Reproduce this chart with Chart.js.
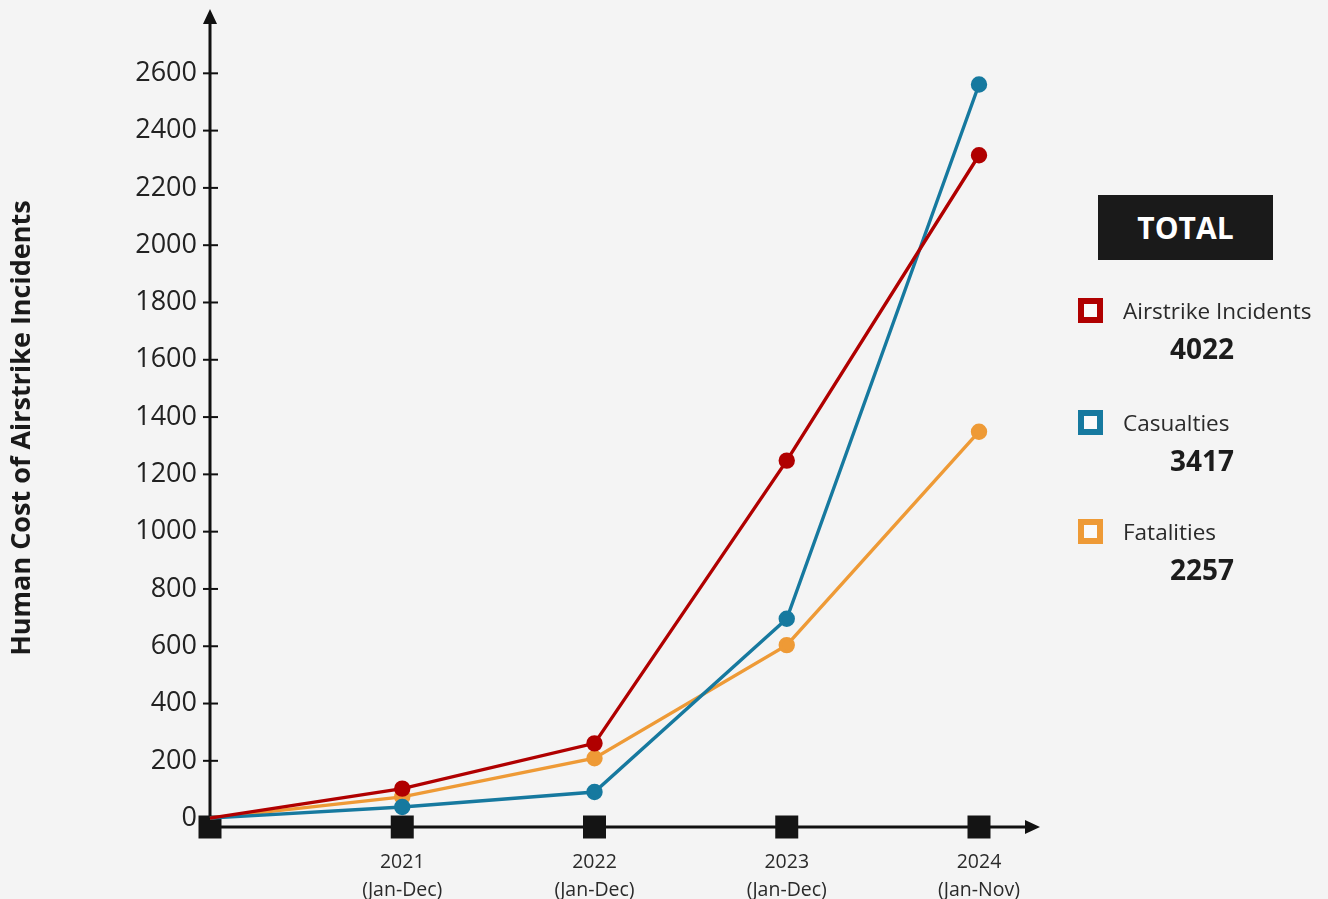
<!DOCTYPE html>
<html>
<head>
<meta charset="utf-8">
<script src="https://cdn.jsdelivr.net/npm/chart.js@4/dist/chart.umd.min.js"></script>
<style>
  html, body { margin: 0; padding: 0; background: #f4f4f4; overflow: hidden; }
  body { width: 1328px; height: 899px; position: relative; font-family: 'Open Sans', sans-serif; color: #222; }
  #wrap { position: absolute; left: 0; top: 0; width: 1328px; height: 899px; }
  .total-box { position: absolute; left: 1098px; top: 195px; width: 175px; height: 65px; background: #1a1a1a;
    color: #fff; font-weight: 700; font-size: 30px; line-height: 65px; text-align: center; }
  .item { position: absolute; left: 1078px; }
  .swatch { position: absolute; left: 0; top: 0; width: 13px; height: 13px; border: 6px solid; background: #fafafa; }
  .name { position: absolute; left: 45px; top: -3px; font-size: 22.5px; white-space: nowrap; color: #2a2a2a; }
  .value { position: absolute; left: 64px; width: 120px; text-align: center; font-size: 28px; font-weight: 700; color: #1c1c1c; }
</style>
</head>
<body>
<div id="wrap"><canvas id="costChart" width="1328" height="899"></canvas></div>
<div class="total-box">TOTAL</div>
<div id="legend"></div>
<script>
  // x positions: origin + one per reporting period
  const years = ['2021', '2022', '2023', '2024'];
  const periods = ['(Jan-Dec)', '(Jan-Dec)', '(Jan-Dec)', '(Jan-Nov)'];
  const seriesNames = ['Airstrike Incidents', 'Casualties', 'Fatalities'];
  const seriesColors = ['#b00000', '#16799f', '#ee9a36'];
  const totals = [4022, 3417, 2257];

  // values, first entry is the origin
  const airstrikes = [0, 103, 261, 1248, 2314];
  const casualties = [0, 39, 91, 696, 2561];
  const fatalities = [0, 74, 209, 604, 1349];

  const yTicks = [0, 200, 400, 600, 800, 1000, 1200, 1400, 1600, 1800, 2000, 2200, 2400, 2600];

  const labels = [''].concat(years.map((y, i) => [y, periods[i]]));

  // axes with arrows, crossing tick marks and square markers on the x axis
  const axisArrows = {
    id: 'axisArrows',
    beforeDatasetsDraw(chart) {
      const { ctx, chartArea, scales } = chart;
      const x0 = chartArea.left;
      const yb = chartArea.bottom;
      ctx.save();
      ctx.strokeStyle = '#111';
      ctx.fillStyle = '#111';
      ctx.lineWidth = 3;
      ctx.beginPath();
      ctx.moveTo(x0, yb);
      ctx.lineTo(x0, 20);
      ctx.moveTo(x0, yb);
      ctx.lineTo(1030, yb);
      ctx.stroke();
      ctx.beginPath();
      ctx.moveTo(x0, 9);
      ctx.lineTo(x0 - 7, 24);
      ctx.lineTo(x0 + 7, 24);
      ctx.closePath();
      ctx.fill();
      ctx.beginPath();
      ctx.moveTo(1040, yb);
      ctx.lineTo(1025, yb - 7);
      ctx.lineTo(1025, yb + 7);
      ctx.closePath();
      ctx.fill();
      ctx.lineWidth = 2;
      scales.y.ticks.forEach(t => {
        const py = scales.y.getPixelForValue(t.value);
        ctx.beginPath();
        ctx.moveTo(x0 - 7, py);
        ctx.lineTo(x0 + 8, py);
        ctx.stroke();
      });
      ctx.fillStyle = '#141414';
      labels.forEach((l, i) => {
        const px = scales.x.getPixelForValue(i);
        ctx.fillRect(px - 11.5, yb - 11.5, 23, 23);
      });
      ctx.restore();
    }
  };

  const ctx = document.getElementById('costChart').getContext('2d');
  const data = [airstrikes, casualties, fatalities];

  new Chart(ctx, {
    type: 'line',
    data: {
      labels: labels,
      datasets: seriesNames.map((name, i) => ({
        label: name,
        data: data[i],
        borderColor: seriesColors[i],
        backgroundColor: seriesColors[i],
        borderWidth: 3.4,
        pointRadius: data[i].map((v, j) => j === 0 ? 0 : 6.5),
        pointHoverRadius: 6.5,
        tension: 0,
        clip: false
      }))
    },
    options: {
      responsive: false,
      animation: false,
      layout: { padding: { top: 24, right: 349, left: 0, bottom: 0 } },
      plugins: {
        legend: { display: false },
        tooltip: { enabled: false }
      },
      scales: {
        x: {
          offset: false,
          grid: { display: false, drawTicks: false },
          border: { display: false },
          ticks: {
            autoSkip: false,
            maxRotation: 0,
            padding: 21,
            color: '#2a2a2a',
            font: { family: 'Open Sans', size: 19.5, lineHeight: 1.44 }
          },
          afterFit(scale) { scale.height = 72; }
        },
        y: {
          min: -31,
          max: 2754,
          grid: { display: false, drawTicks: false },
          border: { display: false },
          ticks: {
            stepSize: 200,
            padding: 13,
            color: '#222',
            font: { family: 'Open Sans', size: 27 },
            callback: v => String(v)
          },
          afterBuildTicks(scale) {
            scale.ticks = yTicks.map(v => ({ value: v }));
          },
          afterFit(scale) { scale.width = 210; },
          title: {
            display: true,
            text: 'Human Cost of Airstrike Incidents',
            color: '#1a1a1a',
            padding: { top: 6, bottom: 0 },
            font: { family: 'Open Sans', size: 27, weight: 'bold', lineHeight: 1.2 }
          }
        }
      }
    },
    plugins: [axisArrows]
  });

  // side legend with totals
  const legendEl = document.getElementById('legend');
  const itemTops = [298, 410, 519];
  seriesNames.forEach((name, i) => {
    const item = document.createElement('div');
    item.className = 'item';
    item.style.top = itemTops[i] + 'px';
    item.innerHTML = '<div class="swatch" style="border-color:' + seriesColors[i] + '"></div>' +
      '<div class="name">' + name + '</div>' +
      '<div class="value" style="top:' + 31 + 'px">' + totals[i] + '</div>';
    legendEl.appendChild(item);
  });
</script>
</body>
</html>
